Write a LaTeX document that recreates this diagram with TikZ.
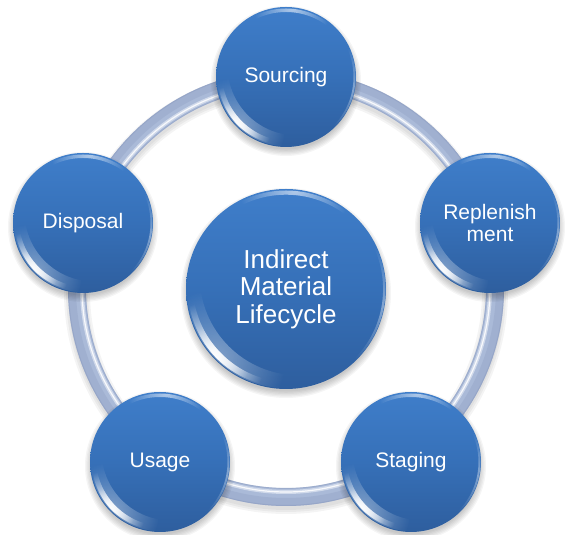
\documentclass[tikz,border=0pt]{standalone}
\usepackage{fontspec}
\setmainfont{Liberation Sans}
\usetikzlibrary{calc,fadings}
\definecolor{ballTop}{HTML}{3F7ECA}
\definecolor{ballMid}{HTML}{3670B8}
\definecolor{ballBot}{HTML}{2E5E9E}
\definecolor{ringBase}{HTML}{AABAD8}
\definecolor{ringDark}{HTML}{8797BC}
\definecolor{ringLight}{HTML}{D6DEEE}
\tikzfading[name=glow, inner color=transparent!0, outer color=transparent!100]
\tikzset{
  ball/.style={circle, inner sep=0pt, text=white, align=center,
    top color=ballTop, bottom color=ballBot, middle color=ballMid, shading=axis},
  smallball/.style={ball, minimum size=140pt, font=\fontsize{21}{22}\selectfont},
  bigball/.style={ball, minimum size=200pt, font=\fontsize{26}{27.5}\selectfont},
  ringtube/.style={line width=18pt, ringBase},
}
\newcommand\ballshadow[2]{%
  \foreach \k in {0,...,5}{\fill[black, opacity=0.04] ($(#1)+(0,-4)$) circle ({#2+5-1.3*\k});}}
\newcommand\gloss[3]{%
  \begin{scope}[shift={(#1.center)}]
    % soft glow lower left
    \begin{scope}[even odd rule]
      \clip (0,0) circle ({#2-1}) (45:{#3*3}) circle ({#2-1});
      \fill[white, path fading=glow, opacity=0.4] (225:{#2}) circle ({#2*0.7});
    \end{scope}
    % bright streak lower left
    \begin{scope}[even odd rule]
      \clip (0,0) circle ({#2-2}) (45:{#3*1.1}) circle ({#2-2});
      \fill[white, path fading=glow, opacity=1] (222:{#2}) circle ({#2*0.55});
      \fill[white, path fading=glow, opacity=0.8] (225:{#2}) circle ({#2*0.35});
    \end{scope}
    % top highlight
    \begin{scope}[even odd rule]
      \clip (0,0) circle ({#2-1.5}) (270:{#3*0.7}) circle ({#2-1.5});
      \fill[white, path fading=glow, opacity=0.6] (85:{#2}) circle ({#2*0.55});
    \end{scope}
    % right rim
    \begin{scope}[even odd rule]
      \clip (0,0) circle ({#2-0.5}) (180:{#3*0.4}) circle ({#2-0.5});
      \fill[white, path fading=glow, opacity=0.4] (-10:{#2}) circle ({#2*0.6});
    \end{scope}
  \end{scope}}
\begin{document}
\begin{tikzpicture}[x=1pt, y=1pt]
  \useasboundingbox (0,0) rectangle (566,535);
  \coordinate (rc) at (286,247);
  \coordinate (pS) at (286,458);
  \coordinate (pR) at (490,312);
  \coordinate (pT) at (411,73);
  \coordinate (pU) at (160,73);
  \coordinate (pD) at (83,312);
  \coordinate (pC) at (286,246);
  % ring shadow
  \foreach \w in {26,22,18}{\draw[black, opacity=0.045, line width=\w pt] ($(rc)+(0,-4)$) circle (209);}
  % ring tube
  \draw[ringtube] (rc) circle (209);
  \draw[ringDark, line width=8pt, opacity=0.28] (rc) circle (214);
  \draw[ringDark, line width=1pt, opacity=0.4] (rc) circle (217.5);
  \draw[ringDark, line width=0.8pt, opacity=0.4] (rc) circle (200.5);
  \draw[ringLight, line width=4pt, opacity=0.9] (rc) circle (204);
  \draw[white, line width=1.2pt, opacity=0.85] (rc) circle (204);
  % shadows of the balls
  \ballshadow{pS}{70}
  \ballshadow{pR}{70}
  \ballshadow{pT}{70}
  \ballshadow{pU}{70}
  \ballshadow{pD}{70}
  \ballshadow{pC}{100}
  % balls
  \node[smallball] (sourcing) at (pS) {Sourcing};
  \node[smallball] (replenishment) at (pR) {Replenish\\ment};
  \node[smallball] (staging) at (pT) {Staging};
  \node[smallball] (usage) at (pU) {Usage};
  \node[smallball] (disposal) at (pD) {Disposal};
  \node[bigball] (center) at (pC) {Indirect\\Material\\Lifecycle};
  \gloss{sourcing}{70}{5}
  \gloss{replenishment}{70}{5}
  \gloss{staging}{70}{5}
  \gloss{usage}{70}{5}
  \gloss{disposal}{70}{5}
  \gloss{center}{100}{6}
\end{tikzpicture}
\end{document}
